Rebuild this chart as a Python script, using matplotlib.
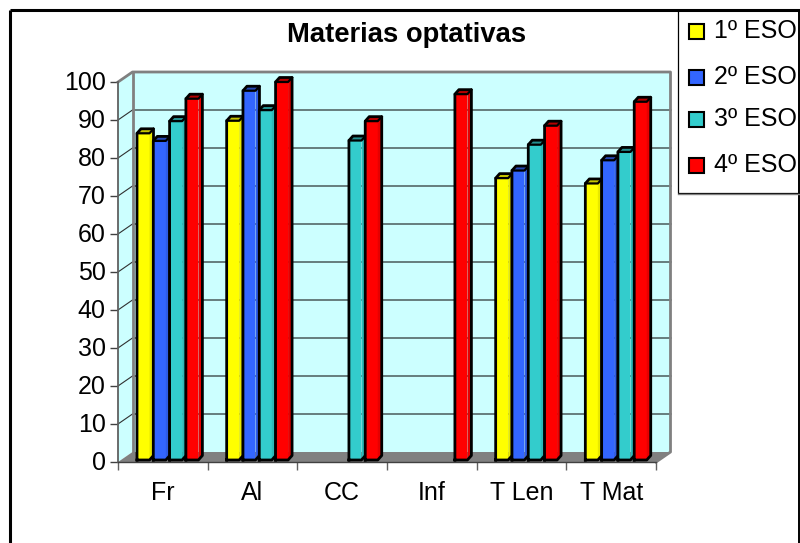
import numpy as np
import matplotlib
matplotlib.use('Agg')
import matplotlib.pyplot as plt
from matplotlib.patches import Rectangle
from matplotlib.transforms import ScaledTranslation

plt.rcParams['font.family'] = ['Liberation Sans', 'DejaVu Sans']

title = 'Materias optativas'
categories = ['Fr', 'Al', 'CC', 'Inf', 'T Len', 'T Mat']
series_names = ['1º ESO', '2º ESO', '3º ESO', '4º ESO']
eso1 = [86.5, 89.8, np.nan, np.nan, 74.7, 73.3]
eso2 = [84.5, 97.7, np.nan, np.nan, 76.7, 79.4]
eso3 = [89.7, 92.6, 84.6, np.nan, 83.5, 81.6]
eso4 = [95.6, 100, 89.7, 96.8, 88.5, 94.8]
series = [eso1, eso2, eso3, eso4]
yticks = list(range(0, 101, 10))

front_cols = ['#ffff00', '#3366ff', '#33cccc', '#ff0000']
side_cols = ['#e8e800', '#2e5ce6', '#2eb8b8', '#e60000']
top_cols = ['#c4c400', '#2448b4', '#249090', '#b40000']

fig = plt.figure(figsize=(8, 5.43), dpi=100, facecolor='white')

# overlay in pixel coords for the frame, title and legend
over = fig.add_axes([0, 0, 1, 1], zorder=5)
over.set_xlim(0, 800)
over.set_ylim(543, 0)
over.axis('off')

ax = fig.add_axes([118 / 800, (543 - 462) / 543, 538 / 800, 380 / 543], zorder=2)
ax.set_xlim(0, len(categories))
ax.set_ylim(0, 100)
for s in ax.spines.values():
    s.set_visible(False)
ax.patch.set_visible(False)

# depth of the fake 3D box, in data units
px_x = len(categories) / 538
px_y = 100 / 380
dx = 14.5 * px_x
dy = 10 * px_y
n = len(categories)
grey = '#808080'

# walls and floor
ax.fill([0, dx, dx, 0], [0, dy, 100 + dy, 100], color='#ccffff', lw=0, clip_on=False, zorder=1)
ax.fill([dx, n + dx, n + dx, dx], [dy, dy, 100 + dy, 100 + dy], color='#ccffff', lw=0, clip_on=False, zorder=1)
ax.fill([0, n, n + dx, dx], [0, 0, dy, dy], color=grey, lw=0, clip_on=False, zorder=1)

for v in yticks[1:-1]:
    ax.plot([dx, n + dx], [v + dy, v + dy], color='#4a5a5a', lw=1.1, clip_on=False, zorder=2)
    ax.plot([0, dx], [v, v + dy], color='#303030', lw=0.8, clip_on=False, zorder=2)

ax.plot([0, dx, n + dx, n + dx, n], [100, 100 + dy, 100 + dy, dy, 0], color=grey, lw=2, clip_on=False, zorder=2)
ax.plot([dx, dx], [dy, 100 + dy], color=grey, lw=2, clip_on=False, zorder=2)
ax.plot([0, 0], [0, 100], color='#606060', lw=1.3, clip_on=False, zorder=3)
ax.plot([0, n], [0, 0], color='#404040', lw=1, clip_on=False, zorder=3)

# bars, left to right so each one covers the side of the previous one
bw = 12.5 * px_x
bx = 4 * px_x
by = 4.5 * px_y
base = 2 * px_y
step = 16.3 * px_x
start = 19 * px_x
bar_lw = 2
z = 4
for i in range(n):
    for j, vals in enumerate(series):
        v = vals[i]
        if np.isnan(v):
            continue
        x0 = i + start + j * step
        x1 = x0 + bw
        ax.fill([x0, x1, x1, x0], [base, base, v, v], color=front_cols[j], lw=0, clip_on=False, zorder=z)
        ax.fill([x1, x1 + bx, x1 + bx, x1], [base, base + by, v + by, v], color=side_cols[j],
                lw=0, clip_on=False, zorder=z)
        ax.fill([x0, x1, x1 + bx, x0 + bx], [v, v, v + by, v + by], color=top_cols[j],
                lw=0, clip_on=False, zorder=z)
        # only the outline and the front top edge are black
        ax.plot([x0, x1, x1 + bx, x1 + bx, x0 + bx, x0, x0], [base, base, base + by, v + by, v + by, v, base],
                color='black', lw=bar_lw, solid_joinstyle='round', clip_on=False, zorder=z)
        ax.plot([x0, x1, x1 + bx], [v, v, v + by], color='black', lw=bar_lw * 0.8, clip_on=False, zorder=z)
        z += 1

ax.set_yticks(yticks)
ax.set_yticklabels([str(t) for t in yticks], fontsize=18, color='black')
ax.tick_params(axis='y', length=5.8, width=1, color='#404040', pad=3)
ax.set_xticks(range(n + 1))
ax.set_xticklabels([])
ax.set_xticks(np.arange(n) + 0.5, minor=True)
ax.set_xticklabels(categories, minor=True, fontsize=18, color='black')
ax.tick_params(axis='x', which='major', length=5.8, width=1, color='#606060')
ax.tick_params(axis='x', which='minor', length=0, pad=14)

# y labels sit a little above their ticks in the original
shift_up = ScaledTranslation(0, 2 / 100, fig.dpi_scale_trans)
for lab in ax.get_yticklabels():
    lab.set_transform(lab.get_transform() + shift_up)

# chart frame
over.plot([9.5, 9.5], [543, 10], color='black', lw=2.2, solid_capstyle='butt')
over.plot([9.5, 800], [10, 10], color='black', lw=2.2, solid_capstyle='butt')
over.plot([799, 799], [10, 543], color='black', lw=1.4, solid_capstyle='butt')

over.text(406.5, 34.5, title, fontsize=19.7, fontweight='bold', ha='center', va='center')

# legend
over.add_patch(Rectangle((677.5, 10), 122, 183, fc='white', ec='black', lw=0.9))
over.plot([677.5, 800], [193.5, 193.5], color=grey, lw=1)
legend_y = [32, 78, 120, 166]
for name, col, ly in zip(series_names, front_cols, legend_y):
    over.add_patch(Rectangle((689, ly - 8), 14.5, 15, fc=col, ec='black', lw=1.5))
    over.text(714.5, ly - 0.5, name, fontsize=18, ha='left', va='center')

fig.savefig('out.png', dpi=100)
